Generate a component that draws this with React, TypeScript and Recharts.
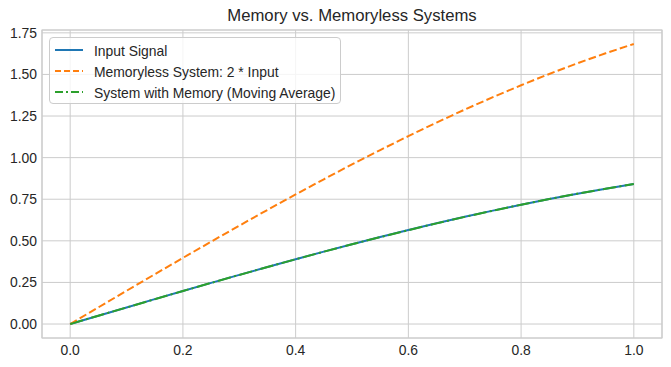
import React from 'react';
import {
  CartesianGrid,
  Line,
  LineChart,
  ReferenceArea,
  XAxis,
  YAxis,
} from 'recharts';

// values
const xValues = [
  0, 0.05, 0.1, 0.15, 0.2, 0.25, 0.3, 0.35, 0.4, 0.45, 0.5, 0.55, 0.6, 0.65,
  0.7, 0.75, 0.8, 0.85, 0.9, 0.95, 1.0,
];
const inputSignal = [
  0, 0.05, 0.0998, 0.1494, 0.1987, 0.2474, 0.2955, 0.3429, 0.3894, 0.435,
  0.4794, 0.5227, 0.5646, 0.6052, 0.6442, 0.6816, 0.7174, 0.7513, 0.7833,
  0.8134, 0.8415,
];
const memorylessOut = [
  0, 0.1, 0.1997, 0.2988, 0.3973, 0.4948, 0.591, 0.6858, 0.7788, 0.8699,
  0.9589, 1.0453, 1.1293, 1.2104, 1.2884, 1.3633, 1.4347, 1.5026, 1.5667,
  1.6269, 1.6829,
];
const movingAvgOut = [
  0, 0.0497, 0.0994, 0.149, 0.1983, 0.247, 0.2951, 0.3425, 0.389, 0.4346,
  0.479, 0.5223, 0.5642, 0.6048, 0.6438, 0.6812, 0.717, 0.7509, 0.783, 0.8131,
  0.8412,
];
const xTicks = [0, 0.2, 0.4, 0.6, 0.8, 1.0];
const yTicks = [0, 0.25, 0.5, 0.75, 1.0, 1.25, 1.5, 1.75];

const series = [
  { key: 'input', name: 'Input Signal', color: '#1f77b4', dash: undefined },
  { key: 'memoryless', name: 'Memoryless System: 2 * Input', color: '#ff7f0e', dash: '7.7 3.3' },
  { key: 'memory', name: 'System with Memory (Moving Average)', color: '#2ca02c', dash: '13.3 3.3 2.1 3.3' },
];

const rows = xValues.map((x, i) => ({
  x,
  input: inputSignal[i],
  memoryless: memorylessOut[i],
  memory: movingAvgOut[i],
}));

const X_DOMAIN = [-0.05, 1.05];
const Y_DOMAIN = [-0.084, 1.767];
const FONT = '"Liberation Sans", Arial, sans-serif';
const tickStyle = { fill: '#262626', fontSize: 13.9, fontFamily: FONT };

export default function App() {
  return (
    <div
      style={{
        position: 'absolute',
        left: 0,
        top: 0,
        width: 671,
        height: 367,
        background: '#fff',
        fontFamily: FONT,
      }}
    >
      <div
        style={{
          position: 'absolute',
          left: 42,
          width: 620,
          top: 8,
          textAlign: 'center',
          fontSize: 16.7,
          lineHeight: '16.7px',
          color: '#262626',
        }}
      >
        Memory vs. Memoryless Systems
      </div>
      <LineChart
        width={671}
        height={367}
        data={rows}
        margin={{ top: 30, right: 9, bottom: 0, left: 0 }}
      >
        <CartesianGrid stroke='#cccccc' strokeWidth={1} />
        <XAxis
          dataKey='x'
          type='number'
          domain={X_DOMAIN}
          ticks={xTicks}
          allowDataOverflow
          height={29}
          axisLine={false}
          tickLine={false}
          tickSize={0}
          tickMargin={7}
          tick={tickStyle}
          tickFormatter={(v) => v.toFixed(1)}
        />
        <YAxis
          type='number'
          domain={Y_DOMAIN}
          ticks={yTicks}
          allowDataOverflow
          width={42}
          axisLine={false}
          tickLine={false}
          tickSize={0}
          tickMargin={5}
          tick={tickStyle}
          tickFormatter={(v) => v.toFixed(2)}
        />
        <ReferenceArea
          x1={X_DOMAIN[0]}
          x2={X_DOMAIN[1]}
          y1={Y_DOMAIN[0]}
          y2={Y_DOMAIN[1]}
          fill='none'
          stroke='#cccccc'
          strokeWidth={1.2}
          ifOverflow='visible'
        />
        {series.map((s) => (
          <Line
            key={s.key}
            dataKey={s.key}
            name={s.name}
            type='monotone'
            stroke={s.color}
            strokeWidth={2}
            strokeDasharray={s.dash}
            dot={false}
            activeDot={false}
            isAnimationActive={false}
          />
        ))}
      </LineChart>
      <div
        style={{
          position: 'absolute',
          left: 49,
          top: 37,
          width: 292,
          height: 67,
          boxSizing: 'border-box',
          background: 'rgba(255,255,255,0.8)',
          border: '1px solid #cccccc',
          borderRadius: 4,
        }}
      >
        {series.map((s, i) => (
          <div
            key={s.key}
            style={{
              position: 'absolute',
              left: 0,
              top: 4 + i * 21,
              height: 18,
              whiteSpace: 'nowrap',
              fontSize: 13.9,
              lineHeight: '18px',
              color: '#262626',
            }}
          >
            <svg
              width={30}
              height={18}
              style={{ position: 'absolute', left: 5, top: 0 }}
            >
              <line
                x1={0}
                x2={28}
                y1={8}
                y2={8}
                stroke={s.color}
                strokeWidth={2}
                strokeDasharray={s.key === 'memory' ? '8 3 2 3' : s.dash ? '6 3' : undefined}
              />
            </svg>
            <span style={{ position: 'absolute', left: 44, top: 0 }}>
              {s.name}
            </span>
          </div>
        ))}
      </div>
    </div>
  );
}
